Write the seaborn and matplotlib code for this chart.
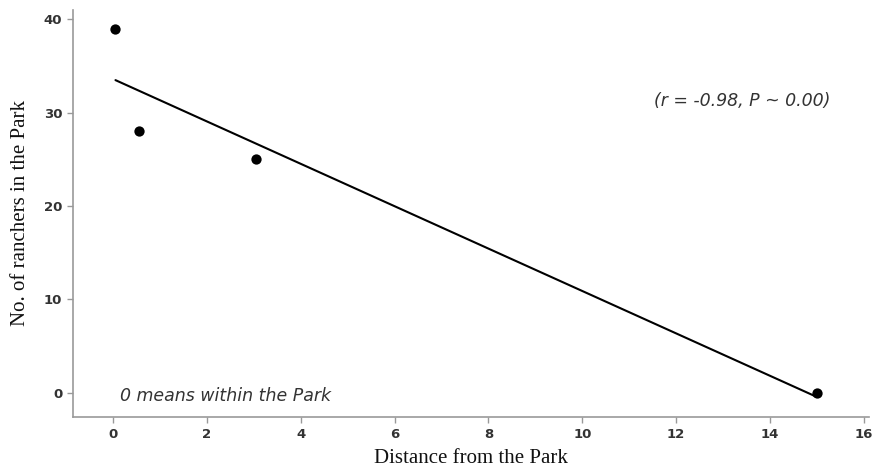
import numpy as np
import pandas as pd
import matplotlib
matplotlib.use('Agg')
import matplotlib.pyplot as plt
import seaborn as sns

# ==================== DATA ====================
distance = [0.05, 0.55, 3.05, 15.0]
ranchers = [39, 28, 25, 0]
x_ticks = [0, 2, 4, 6, 8, 10, 12, 14, 16]
y_ticks = [0, 10, 20, 30, 40]

df = pd.DataFrame({'distance': distance, 'ranchers': ranchers})

# ==================== PLOT ====================
sns.set_style('white')
plt.rcParams['font.family'] = ['DejaVu Sans']

fig = plt.figure(figsize=(8.72, 4.72), dpi=100)
ax = fig.add_axes([0.084, 0.117, 0.912, 0.862])

sns.regplot(data=df, x='distance', y='ranchers', ci=None, ax=ax,
            scatter_kws={'s': 55, 'color': 'black', 'alpha': 1, 'linewidths': 0, 'zorder': 3},
            line_kws={'color': 'black', 'lw': 1.5})

ax.set_xlim(-0.85, 16.1)
ax.set_ylim(-2.6, 41.0)
ax.set_xticks(x_ticks)
ax.set_yticks(y_ticks)
ax.tick_params(axis='both', direction='out', length=4, width=1, color='#999999',
               bottom=True, left=True, labelsize=9.5, labelcolor='#333333', pad=4)
for lbl in ax.get_xticklabels() + ax.get_yticklabels():
    lbl.set_fontweight('bold')

for side in ['top', 'right']:
    ax.spines[side].set_visible(False)
for side in ['left', 'bottom']:
    ax.spines[side].set_color('#999999')
    ax.spines[side].set_linewidth(1.2)

ax.set_xlabel('Distance from the Park', family='Liberation Serif', fontsize=15,
              color='#111111', labelpad=6)
ax.set_ylabel('No. of ranchers in the Park', family='Liberation Serif', fontsize=15,
              color='#111111', labelpad=10)

ax.text(13.4, 31.2, '(r = -0.98, P ~ 0.00)', style='italic', fontsize=12.5,
        ha='center', va='center', color='#333333')
ax.text(0.15, -0.4, '0 means within the Park', style='italic', fontsize=12.5,
        ha='left', va='center', color='#333333')

fig.savefig('out.png', dpi=100)
